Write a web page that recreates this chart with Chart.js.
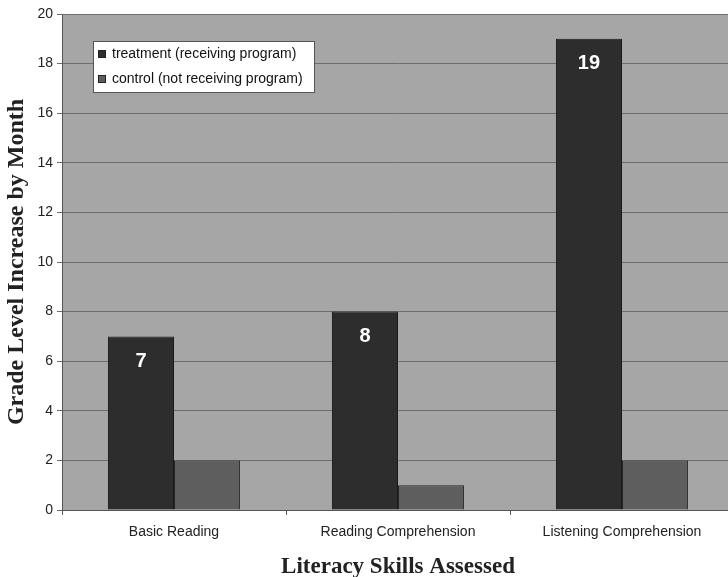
<!DOCTYPE html>
<html>
<head>
<meta charset="utf-8">
<script src="https://cdn.jsdelivr.net/npm/chart.js@4"></script>
<style>
  html, body { margin: 0; padding: 0; background: #ffffff; overflow: hidden; }
  #wrap { width: 728px; height: 577px; overflow: hidden; }
</style>
</head>
<body>
<div id="wrap"><canvas id="c" width="734" height="577"></canvas></div>
<script>
const categories = ['Basic Reading', 'Reading Comprehension', 'Listening Comprehension'];
const treatment = [7, 8, 19];
const control = [2, 1, 2];
const seriesNames = ['treatment (receiving program)', 'control (not receiving program)'];
const yTicks = [0, 2, 4, 6, 8, 10, 12, 14, 16, 18, 20];

// gray plotting area behind the bars
const plotBackground = {
  id: 'plotBackground',
  beforeDraw(chart) {
    const { ctx, chartArea: a } = chart;
    ctx.save();
    ctx.fillStyle = '#a6a6a6';
    ctx.fillRect(a.left, a.top, a.right - a.left, a.bottom - a.top);
    ctx.restore();
  }
};

// white value labels inside the treatment bars
const barLabels = {
  id: 'barLabels',
  afterDatasetsDraw(chart) {
    const { ctx } = chart;
    const meta = chart.getDatasetMeta(0);
    ctx.save();
    ctx.fillStyle = '#ffffff';
    ctx.font = 'bold 20px "Liberation Sans", Arial, sans-serif';
    ctx.textAlign = 'center';
    ctx.textBaseline = 'middle';
    meta.data.forEach((bar, i) => {
      ctx.fillText(String(treatment[i]), bar.x, bar.y + 25);
    });
    ctx.restore();
  }
};

// boxed legend inside the plot area
const boxLegend = {
  id: 'boxLegend',
  afterDraw(chart) {
    const { ctx } = chart;
    const x = 93, y = 41, w = 221, h = 51;
    ctx.save();
    ctx.fillStyle = '#ffffff';
    ctx.fillRect(x, y, w, h);
    ctx.strokeStyle = '#555555';
    ctx.lineWidth = 1;
    ctx.strokeRect(x + 0.5, y + 0.5, w, h);
    ctx.font = '14px "Liberation Sans", Arial, sans-serif';
    ctx.textBaseline = 'middle';
    chart.data.datasets.forEach((ds, i) => {
      const cy = y + 13 + i * 25;
      ctx.fillStyle = ds.backgroundColor;
      ctx.fillRect(x + 5, cy - 4, 8, 8);
      ctx.strokeStyle = '#222222';
      ctx.strokeRect(x + 5.5, cy - 3.5, 7, 7);
      ctx.fillStyle = '#111111';
      ctx.fillText(ds.label, x + 19, cy);
    });
    ctx.restore();
  }
};

new Chart(document.getElementById('c'), {
  type: 'bar',
  data: {
    labels: categories,
    datasets: [
      { label: seriesNames[0], data: treatment, backgroundColor: '#2d2d2d', borderColor: '#1a1a1a', borderWidth: 1 },
      { label: seriesNames[1], data: control, backgroundColor: '#5e5e5e', borderColor: '#262626', borderWidth: 1 }
    ]
  },
  options: {
    responsive: false,
    animation: false,
    layout: { padding: { top: 14, right: 0, left: 0, bottom: 0 } },
    plugins: { legend: { display: false }, tooltip: { enabled: false } },
    datasets: { bar: { categoryPercentage: 0.59, barPercentage: 1.0 } },
    scales: {
      x: {
        grid: { drawOnChartArea: false, offset: true, color: '#555555', tickLength: 5 },
        border: { color: '#555555' },
        ticks: { color: '#222222', font: { family: '"Liberation Sans", Arial, sans-serif', size: 14 }, padding: 9, maxRotation: 0 },
        title: { display: true, text: 'Literacy Skills Assessed', color: '#222222',
                 font: { family: '"Liberation Serif", "Times New Roman", serif', size: 23, weight: 'bold' }, padding: { top: 4, bottom: -4 } },
        afterFit(scale) { scale.height = 67; }
      },
      y: {
        min: 0, max: 20,
        afterBuildTicks(scale) { scale.ticks = yTicks.map(v => ({ value: v })); },
        grid: { color: '#6c6c6c', tickLength: 5 },
        border: { color: '#555555' },
        ticks: { color: '#222222', font: { family: '"Liberation Sans", Arial, sans-serif', size: 14 }, padding: 4 },
        title: { display: true, text: 'Grade Level Increase by Month', color: '#222222',
                 font: { family: '"Liberation Serif", "Times New Roman", serif', size: 24, weight: 'bold' }, padding: { top: 2, bottom: 0 } },
        afterFit(scale) { scale.width = 62; }
      }
    }
  },
  plugins: [plotBackground, barLabels, boxLegend]
});
</script>
</body>
</html>
